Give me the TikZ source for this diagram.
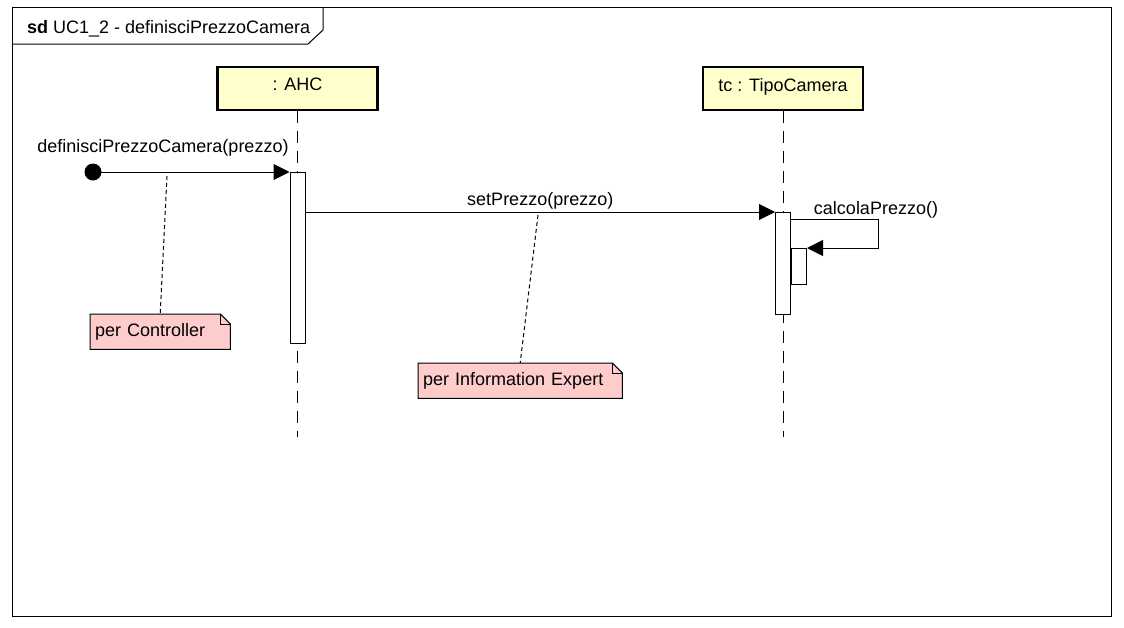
\documentclass[tikz,border=0pt]{standalone}
\usepackage{fontspec}
\setmainfont{Liberation Sans}
\usetikzlibrary{arrows.meta, positioning, backgrounds}
\definecolor{headfill}{RGB}{255,255,204}
\definecolor{notefill}{RGB}{255,204,204}
\tikzstyle{lifehead} = [rectangle, minimum width=160pt, minimum height=43pt, text depth=8pt, draw=black, line width=2.5pt, fill=headfill]
\tikzstyle{lifeline} = [line width=1pt, dash pattern=on 12pt off 8pt]
\tikzstyle{activation} = [rectangle, minimum width=15pt, inner sep=0pt, draw=black, line width=1pt, fill=white, anchor=north]
\tikzstyle{arrow} = [line width=1pt, -{Triangle[length=16pt,width=16pt]}]
\tikzstyle{notebox} = [inner xsep=5pt, inner ysep=0pt, minimum height=35pt, align=left, anchor=north west]
\tikzstyle{notepaper} = [draw=black, line width=1pt, fill=notefill]
\tikzstyle{notelink} = [line width=1pt, dash pattern=on 4pt off 3pt]
\tikzstyle{msglabel} = [inner sep=0pt, anchor=base]
\newcommand{\foldnote}[1]{%
  \begin{scope}[on background layer]
    \draw [notepaper] (#1.north west) -- ([xshift=-10pt]#1.north east) -- ([yshift=-10pt]#1.north east) -- (#1.south east) -- (#1.south west) -- cycle;
    \draw [line width=1pt] ([xshift=-10pt]#1.north east) |- ([yshift=-10pt]#1.north east);
  \end{scope}}

\begin{document}
\begin{tikzpicture}[x=1pt, y=-1pt, font=\fontsize{18pt}{21pt}\selectfont]
    \useasboundingbox (0,0) rectangle (1124,627);
    \node (frame) [draw=black, line width=1pt, minimum width=1099pt, minimum height=609pt, inner sep=0pt, anchor=north west] at (12,7) {};
    \node (title) [anchor=base west, inner sep=0pt] at (27,33) {\textbf{sd} UC1\_2 - definisciPrezzoCamera};
    \draw [line width=1pt] (12,44) -- (308,44) -- (323,30) -- (323,7);

    \node (ahc) [lifehead] at (297.5,88.5) {: AHC};
    \node (tc) [lifehead, right=323pt of ahc] {tc : TipoCamera};
    \draw [lifeline] (ahc.south) -- (ahc.south |- 0,437);
    \draw [lifeline] (tc.south) -- (tc.south |- 0,437);

    \node (ahcact) [activation, minimum height=171pt] at (ahc.south |- 0,172) {};
    \node (tcact) [activation, minimum height=102pt] at (tc.south |- 0,212) {};
    \node (calcact) [activation, minimum height=36pt, anchor=north west] at (tcact.east |- 0,248) {};

    \node (found) [circle, fill=black, inner sep=0pt, minimum size=17pt] at (93,172) {};
    \node (foundlabel) [msglabel] at (163,152) {definisciPrezzoCamera(prezzo)};
    \draw [arrow] (found.center) -- (ahcact.north west);
    \draw [arrow] (ahcact.east |- tcact.north) -- node (setlabel) [above, inner sep=2pt] {setPrezzo(prezzo)} (tcact.north west);
    \draw [arrow] ([yshift=-7pt]tcact.north east) -- ++(87pt,0) |- (calcact.north east);
    \node (calclabel) [msglabel] at (876,214) {calcolaPrezzo()};

    \node (ctrlnote) [notebox, text width=130pt] at (90,314) {per Controller};
    \node (infonote) [notebox, text width=194pt] at (418,363) {per Information Expert};
    \foldnote{ctrlnote}
    \foldnote{infonote}
    \coordinate (ctrlpin) at (167,176);
    \coordinate (infopin) at (538,215);
    \draw [notelink] (ctrlpin) -- (ctrlnote.north);
    \draw [notelink] (infopin) -- (infonote.north);
\end{tikzpicture}
\end{document}
